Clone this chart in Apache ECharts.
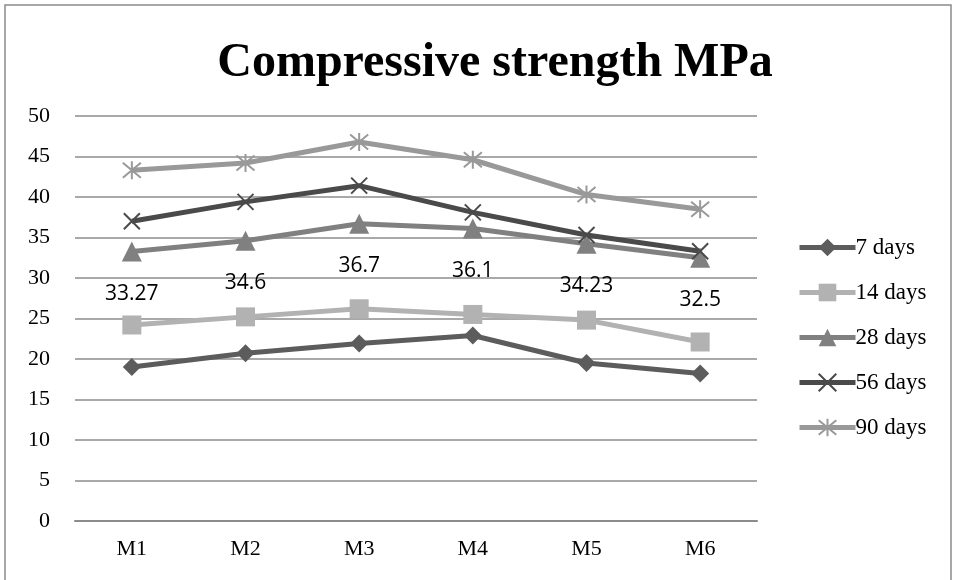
<!DOCTYPE html>
<html>
<head>
<meta charset="utf-8">
<script src="https://cdn.jsdelivr.net/npm/echarts@6/dist/echarts.min.js"></script>
<style>
  html, body { margin: 0; padding: 0; background: #fff; }
  #chart { width: 956px; height: 580px; }
</style>
</head>
<body>
<div id="chart"></div>
<script>
var categories = ['M1', 'M2', 'M3', 'M4', 'M5', 'M6']
var days7 = [19.0, 20.7, 21.9, 22.9, 19.5, 18.2]
var days14 = [24.2, 25.2, 26.2, 25.5, 24.8, 22.1]
var days28 = [33.27, 34.6, 36.7, 36.1, 34.23, 32.5]
var days56 = [37.0, 39.4, 41.4, 38.1, 35.3, 33.3]
var days90 = [43.3, 44.2, 46.8, 44.6, 40.3, 38.5]

var myChart = echarts.init(document.getElementById('chart'))

var serif = '"Liberation Serif", "DejaVu Serif", serif'
// Excel style markers
var crossPath = 'path://M0,0 L10,10 M10,0 L0,10'
var starPath = 'path://M0,0 L10,10 M10,0 L0,10 M5,-1 L5,11'

function makeLine(name, data, color, symbol, size, extra) {
  var s = {
    name: name,
    type: 'line',
    data: data,
    symbol: symbol,
    symbolSize: size,
    lineStyle: { color: color, width: 5 },
    itemStyle: { color: color },
    z: 3
  }
  return Object.assign(s, extra || {})
}

var option = {
  backgroundColor: '#fff',
  animation: false,
  title: {
    text: 'Compressive strength MPa',
    left: 490,
    top: 35,
    textAlign: 'center',
    textStyle: { fontFamily: serif, fontSize: 48, fontWeight: 'bold', color: '#000' }
  },
  graphic: [{
    type: 'rect',
    shape: { x: 5, y: 5, width: 946, height: 620 },
    style: { fill: 'none', stroke: '#8a8a8a', lineWidth: 1.5 },
    silent: true
  }],
  legend: {
    orient: 'vertical',
    left: 792,
    top: 231,
    itemWidth: 56,
    itemHeight: 22,
    itemGap: 22,
    lineStyle: { width: 5 },
    textStyle: { fontFamily: serif, fontSize: 23, color: '#000', padding: [0, 0, 0, -5] },
    data: ['7 days', '14 days', '28 days', '56 days', '90 days']
  },
  grid: { left: 75, right: 199, top: 116, bottom: 59 },
  xAxis: {
    type: 'category',
    data: categories,
    axisLine: { lineStyle: { color: '#8c8c8c', width: 2 } },
    axisTick: { show: false },
    axisLabel: { fontFamily: serif, fontSize: 22, color: '#000', margin: 17 }
  },
  yAxis: {
    type: 'value',
    min: 0,
    max: 50,
    interval: 5,
    axisLine: { show: false },
    axisTick: { show: false },
    axisLabel: { fontFamily: serif, fontSize: 22, color: '#000', margin: 25 },
    splitLine: { lineStyle: { color: '#8c8c8c', width: 1.5 } }
  },
  series: [
    makeLine('7 days', days7, '#5c5c5c', 'diamond', 18),
    makeLine('14 days', days14, '#b2b2b2', 'rect', 19),
    makeLine('28 days', days28, '#808080', 'triangle', 20, {
      label: {
        show: true,
        position: 'bottom',
        distance: 22,
        fontFamily: '"Open Sans", "Noto Sans", sans-serif',
        fontSize: 21,
        color: '#000'
      }
    }),
    makeLine('56 days', days56, '#4a4a4a', crossPath, 16, {
      itemStyle: { color: 'none', borderColor: '#4a4a4a', borderWidth: 2 }
    }),
    makeLine('90 days', days90, '#999999', starPath, 18, {
      itemStyle: { color: 'none', borderColor: '#999999', borderWidth: 2 }
    })
  ]
}
myChart.setOption(option)
</script>
</body>
</html>
